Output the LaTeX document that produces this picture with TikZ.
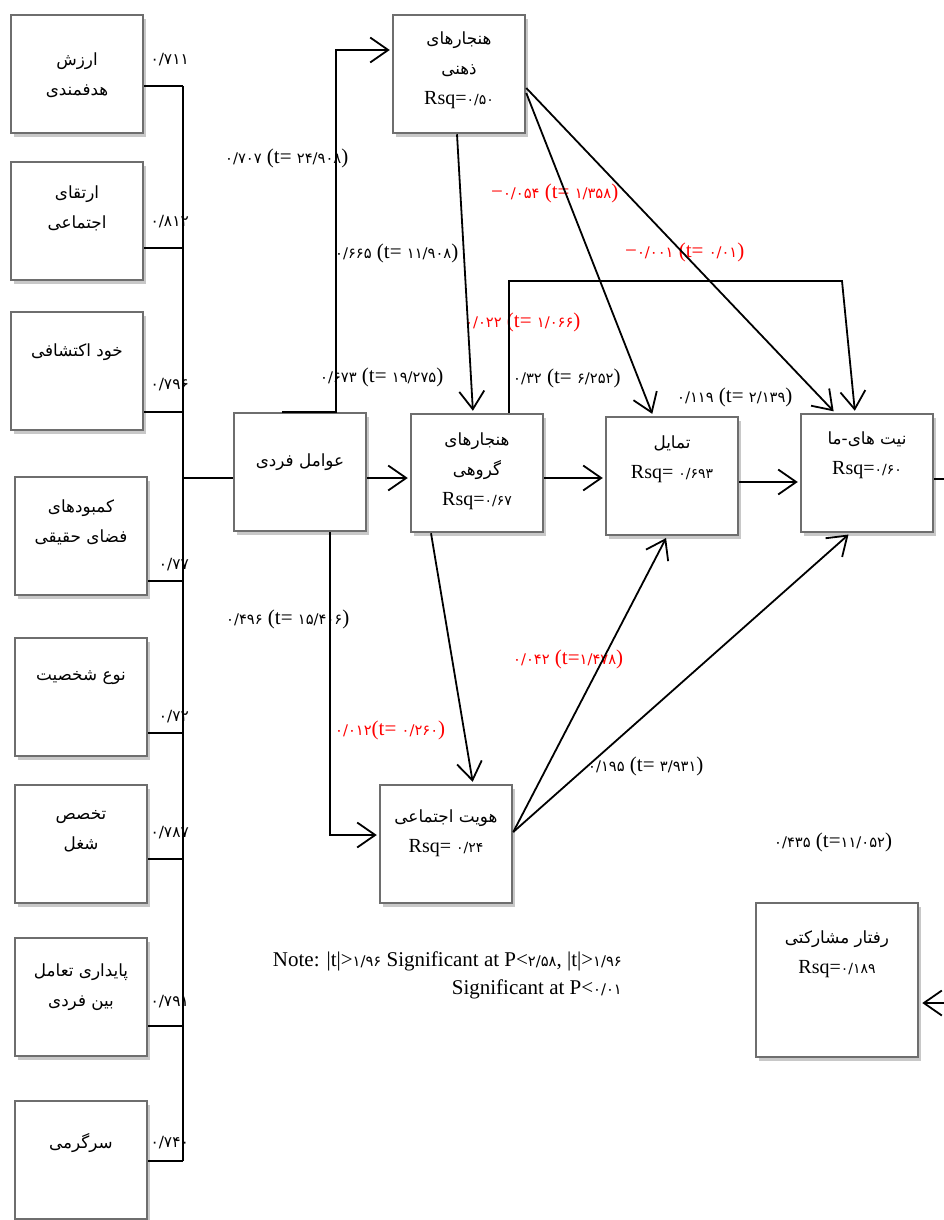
\documentclass[tikz,border=0pt]{standalone}
\usepackage{fontspec}
\setmainfont{Liberation Serif}
\newfontfamily\farsi[Script=Arabic,Scale=0.84]{DejaVu Sans}
\newfontfamily\farsinum[Script=Arabic,Scale=0.7]{DejaVu Sans}
\TeXXeTstate=1
\newcommand{\fa}[1]{{\farsi\beginR #1\endR}}
\newcommand{\nm}[1]{{\farsinum #1}}
\usetikzlibrary{arrows.meta, shadows}
\definecolor{boxcol}{RGB}{110,110,110}
\definecolor{shadowcol}{RGB}{200,200,200}

\begin{document}
\begin{tikzpicture}[
			x=1pt, y=-1pt,
			box/.style={
				draw=boxcol,
				line width=2.5pt,
				fill=white,
				minimum width=132pt,
				minimum height=118pt,
				inner sep=0pt,
				drop shadow={shadow xshift=3pt, shadow yshift=-4pt, fill=shadowcol, opacity=1}
			},
			boxtext/.style={
				align=center,
				inner sep=0pt,
				font=\fontsize{20}{30}\selectfont
			},
			coef/.style={
				anchor=west,
				inner sep=0pt,
				font=\fontsize{21}{24}\selectfont
			},
			load/.style={
				anchor=east,
				inner sep=0pt,
				font=\fontsize{22}{24}\selectfont
			},
			line/.style={
				line width=1.8pt
			},
			arr/.style={
				line width=1.8pt,
				-{Straight Barb[length=18pt,width=25pt]},
				shorten >=2pt
			}
			]
			\useasboundingbox[fill=white] (0,0) rectangle (944,1220);
			% Indicators
			\node[box] (v1) at (77,74) {};
			\node[box] (v2) at (77,221) {};
			\node[box] (v3) at (77,371) {};
			\node[box] (v4) at (81,536) {};
			\node[box] (v5) at (81,697) {};
			\node[box] (v6) at (81,844) {};
			\node[box] (v7) at (81,997) {};
			\node[box] (v8) at (81,1160) {};
			\node[boxtext] (v1t) at (77,75) {\fa{ارزش}\\\fa{هدفمندی}};
			\node[boxtext] (v2t) at (77,208) {\fa{ارتقای}\\\fa{اجتماعی}};
			\node[boxtext] (v3t) at (77,352) {\fa{خود اکتشافی}};
			\node[boxtext] (v4t) at (81,522) {\fa{کمبودهای}\\\fa{فضای حقیقی}};
			\node[boxtext] (v5t) at (81,678) {\fa{نوع شخصیت}};
			\node[boxtext] (v6t) at (81,831) {\fa{تخصص}\\\fa{شغل}};
			\node[boxtext] (v7t) at (81,987) {\fa{پایداری تعامل}\\\fa{بین فردی}};
			\node[boxtext] (v8t) at (81,1143) {\fa{سرگرمی}};
			% Constructs
			\node[box] (zehn) at (459,74) {};
			\node[box] (fard) at (300,472) {};
			\node[box] (goro) at (477,473) {};
			\node[box] (tama) at (672,476) {};
			\node[box] (niya) at (867,473) {};
			\node[box] (hovi) at (446,844) {};
			\node[box, minimum width=162pt, minimum height=154pt] (raft) at (837,980) {};
			\node[boxtext] (zehnt) at (459,70) {\fa{هنجارهای}\\\fa{ذهنی}\\Rsq=\nm{۰/۵۰}};
			\node[boxtext] (fardt) at (300,462) {\fa{عوامل فردی}};
			\node[boxtext] (gorot) at (477,471) {\fa{هنجارهای}\\\fa{گروهی}\\Rsq=\nm{۰/۶۷}};
			\node[boxtext] (tamat) at (672,459) {\fa{تمایل}\\Rsq= \nm{۰/۶۹۳}};
			\node[boxtext] (niyat) at (867,455) {\fa{نیت های-ما}\\Rsq=\nm{۰/۶۰}};
			\node[boxtext] (hovit) at (446,833) {\fa{هویت اجتماعی}\\Rsq= \nm{۰/۲۴}};
			\node[boxtext] (raftt) at (837,954) {\fa{رفتار مشارکتی}\\Rsq=\nm{۰/۱۸۹}};
			% Bus
			\coordinate (bus1) at (183,86);
			\coordinate (bus2) at (183,248);
			\coordinate (bus3) at (183,412);
			\coordinate (bus4) at (183,581);
			\coordinate (bus5) at (183,733);
			\coordinate (bus6) at (183,859);
			\coordinate (bus7) at (183,1026);
			\coordinate (bus8) at (183,1161);
			\coordinate (busf) at (183,478);
			\draw[line]
			(v1.east |- bus1) -- (bus1)
			(v2.east |- bus2) -- (bus2)
			(v3.east |- bus3) -- (bus3)
			(v4.east |- bus4) -- (bus4)
			(v5.east |- bus5) -- (bus5)
			(v6.east |- bus6) -- (bus6)
			(v7.east |- bus7) -- (bus7)
			(v8.east |- bus8) -- (bus8)
			(bus1) -- (bus8)
			(busf) -- (busf -| fard.west);
			% Loadings
			\node[load] (l1) at (189,60) {\nm{۰/۷۱۱}};
			\node[load] (l2) at (189,222) {\nm{۰/۸۱۲}};
			\node[load] (l3) at (189,385) {\nm{۰/۷۹۶}};
			\node[load] (l4) at (189,565) {\nm{۰/۷۷}};
			\node[load] (l5) at (189,717) {\nm{۰/۷۲}};
			\node[load] (l6) at (189,833) {\nm{۰/۷۸۷}};
			\node[load] (l7) at (189,1002) {\nm{۰/۷۹۱}};
			\node[load] (l8) at (189,1143) {\nm{۰/۷۴۰}};
			% Path coefficients
			\node[coef] (c1) at (225,158) {\nm{۰/۷۰۷} (t= \nm{۲۴/۹۰۸})};
			\node[coef] (c2) at (335,253) {\nm{۰/۶۶۵} (t= \nm{۱۱/۹۰۸})};
			\node[coef] (c3) at (320,377) {\nm{۰/۶۷۳} (t= \nm{۱۹/۲۷۵})};
			\node[coef, red] (c4) at (491,193) {−\nm{۰/۰۵۴} (t= \nm{۱/۳۵۸})};
			\node[coef, red] (c5) at (625,252) {−\nm{۰/۰۰۱} (t= \nm{۰/۰۱})};
			\node[coef, red] (c6) at (465,322) {\nm{۰/۰۲۲} (t= \nm{۱/۰۶۶})};
			\node[coef] (c7) at (513,378) {\nm{۰/۳۲} (t= \nm{۶/۲۵۲})};
			\node[coef] (c8) at (677,397) {\nm{۰/۱۱۹} (t= \nm{۲/۱۳۹})};
			\node[coef] (c9) at (226,619) {\nm{۰/۴۹۶} (t= \nm{۱۵/۴۰۶})};
			\node[coef, red] (c10) at (513,659) {\nm{۰/۰۴۲} (t=\nm{۱/۴۷۸})};
			\node[coef, red] (c11) at (335,730) {\nm{۰/۰۱۲}(t= \nm{۰/۲۶۰})};
			\node[coef] (c12) at (588,766) {\nm{۰/۱۹۵} (t= \nm{۳/۹۳۱})};
			\node[coef] (c13) at (774,842) {\nm{۰/۴۳۵} (t=\nm{۱۱/۰۵۲})};
			\node[anchor=north east, align=right, inner sep=0pt, font=\fontsize{21}{28}\selectfont] (note) at (622,952)
			{Note: |t|>\nm{۱/۹۶} Significant at P<\nm{۲/۵۸}, |t|>\nm{۱/۹۶}\\Significant at P<\nm{۰/۰۱}};
			% Paths
			\draw[arr] ([xshift=-18pt]fard.north) -- ++(54,0) |- ([yshift=24pt]zehn.west);
			\draw[arr] ([xshift=30pt]fard.south) |- ([yshift=9pt]hovi.west);
			\draw[arr] ([yshift=-6pt]fard.east) -- ([yshift=-6pt]fard.east -| goro.west);
			\draw[arr] ([yshift=-5pt]goro.east) -- ([yshift=-5pt]goro.east -| tama.west);
			\draw[arr] ([yshift=-6pt]tama.east) -- ([yshift=-6pt]tama.east -| niya.west);
			\draw[arr] ([xshift=-2pt]zehn.south) -- ([xshift=-4pt]goro.north);
			\draw[arr] ([yshift=-19pt]zehn.east) -- ([xshift=-19pt]tama.north);
			\draw[arr] ([yshift=-14pt]zehn.east) -- ([xshift=-32pt]niya.north);
			\draw[arr] ([xshift=32pt]goro.north) |- (842,281) -- ([xshift=-12pt]niya.north);
			\draw[arr] ([xshift=-46pt]goro.south) -- ([xshift=27pt]hovi.north);
			\draw[arr] ([yshift=12pt]hovi.east) -- ([xshift=-5pt]tama.south);
			\draw[arr] ([yshift=12pt]hovi.east) -- ([xshift=-17pt]niya.south);
			\draw[arr, shorten >=3pt] ([yshift=-6pt]niya.east) -- ++(40,0) |- ([yshift=-23pt]raft.east);
		\end{tikzpicture}
\end{document}
